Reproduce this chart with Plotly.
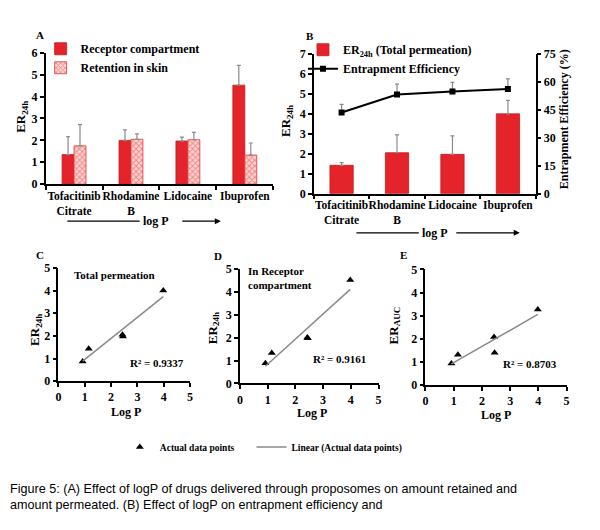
import numpy as np
import plotly.graph_objects as go

# ---------------- data ----------------
drugs = ["Tofacitinib<br>Citrate", "Rhodamine<br>B", "Lidocaine", "Ibuprofen"]
drug_labels = ["<b>Tofacitinib</b><br><b>Citrate</b>", "<b>Rhodamine</b><br><b>B</b>",
               "<b>Lidocaine</b>", "<b>Ibuprofen</b>"]

receptor = [1.35, 2.00, 1.97, 4.52]
receptor_err = [0.82, 0.48, 0.18, 0.90]
retention = [1.75, 2.05, 2.03, 1.33]
retention_err = [0.97, 0.25, 0.34, 0.55]

er_total = [1.42, 2.05, 1.97, 4.00]
er_total_err = [0.13, 0.90, 0.93, 0.68]
entrapment = [43.6, 53.2, 54.9, 56.2]
entrapment_err = [4.4, 5.6, 4.9, 5.4]

logp = [0.92, 1.15, 2.43, 2.45, 3.98]
er_c = [0.87, 1.43, 2.05, 1.97, 4.00]
er_d = [0.88, 1.33, 2.00, 1.97, 4.50]
er_e = [0.93, 1.31, 2.08, 1.40, 3.27]
r2_labels = ["R² = 0.9337", "R² = 0.9161", "R² = 0.8703"]

W, H = 600, 530
SERIF = "Liberation Serif"
RED = "#e5232a"
GREY = "#8a8a8a"


def px(x):
    return x / W


def py(y):
    return 1 - y / H


def numticks(n, step=1):
    vals = list(range(0, n + 1, step))
    return dict(tickmode="array", tickvals=vals, ticktext=[f"<b>{v}</b>" for v in vals])


def axstyle(**kw):
    d = dict(showline=True, linecolor="black", linewidth=1.5, ticks="outside",
             ticklen=4, tickwidth=1.5, tickcolor="black", showgrid=False,
             zeroline=False, fixedrange=True,
             tickfont=dict(family=SERIF, size=12, color="black"))
    d.update(kw)
    return d


fig = go.Figure()

err_style = dict(type="data", symmetric=False, color=GREY, thickness=1.2, width=2)

# Panel A
fig.add_trace(go.Bar(x=drugs, y=receptor, name="Receptor compartment",
                     marker=dict(color=RED, line=dict(color="#c41a1f", width=0.8)),
                     error_y=dict(array=receptor_err, arrayminus=[0] * 4, **err_style),
                     xaxis="x", yaxis="y", legend="legend"))
fig.add_trace(go.Bar(x=drugs, y=retention, name="Retention in skin",
                     marker=dict(color="#f6b3ad", line=dict(color="#e03a3a", width=0.8),
                                 pattern=dict(shape="x", fgcolor="#e8383c", bgcolor="#fbd6d2",
                                              size=4, solidity=0.45)),
                     error_y=dict(array=retention_err, arrayminus=[0] * 4, **err_style),
                     xaxis="x", yaxis="y", legend="legend"))

# Panel B
fig.add_trace(go.Bar(x=drugs, y=er_total, name="ER<sub>24h</sub> (Total permeation)",
                     marker=dict(color=RED, line=dict(color="#c41a1f", width=0.8)),
                     error_y=dict(array=er_total_err, arrayminus=[0] * 4, **err_style),
                     xaxis="x2", yaxis="y2", legend="legend2"))
fig.add_trace(go.Scatter(x=drugs, y=entrapment, name="Entrapment Efficiency",
                         mode="lines+markers",
                         line=dict(color="black", width=2),
                         marker=dict(symbol="square", size=6, color="black"),
                         error_y=dict(array=entrapment_err, arrayminus=[0] * 4, **err_style),
                         xaxis="x2", yaxis="y3", legend="legend2"))

# Panels C, D, E
for i, (vals, xa, ya) in enumerate([(er_c, "x3", "y4"), (er_d, "x4", "y5"), (er_e, "x5", "y6")]):
    fig.add_trace(go.Scatter(x=logp, y=vals, mode="markers", name="Actual data points",
                             marker=dict(symbol="triangle-up", size=7, color="black"),
                             xaxis=xa, yaxis=ya, legend="legend3", showlegend=(i == 0)))
    slope, icpt = np.polyfit(logp, vals, 1)
    xf = np.array([min(logp), max(logp)])
    fig.add_trace(go.Scatter(x=xf, y=slope * xf + icpt, mode="lines",
                             name="Linear (Actual data points)",
                             line=dict(color=GREY, width=1.5),
                             xaxis=xa, yaxis=ya, legend="legend4", showlegend=(i == 0)))

cat_ax = dict(type="category", tickson="boundaries", tickangle=0,
              tickmode="array", tickvals=drugs, ticktext=drug_labels,
              tickfont=dict(family=SERIF, size=11.5, color="black"))

leg_font = dict(family=SERIF, size=12, color="black", weight="bold")
leg_common = dict(xanchor="left", bgcolor="rgba(0,0,0,0)", itemclick=False, itemdoubleclick=False)

fig.update_layout(
    width=W, height=H, margin=dict(l=0, r=0, t=0, b=0),
    paper_bgcolor="white", plot_bgcolor="white",
    barmode="group", bargap=0.58, bargroupgap=0,
    xaxis=axstyle(domain=[px(43), px(273)], anchor="y", **cat_ax),
    yaxis=axstyle(domain=[py(182), py(47)], anchor="x", range=[0, 6], **numticks(6)),
    xaxis2=axstyle(domain=[px(314), px(538)], anchor="y2", **cat_ax),
    yaxis2=axstyle(domain=[py(191.7), py(48.3)], anchor="x2", range=[0, 7], **numticks(7)),
    yaxis3=axstyle(overlaying="y2", side="right", anchor="x2", range=[0, 75], **numticks(75, 15)),
    xaxis3=axstyle(domain=[px(56), px(189)], anchor="y4", range=[0, 5], **numticks(5)),
    yaxis4=axstyle(domain=[py(384.3), py(268)], anchor="x3", range=[0, 5], **numticks(5)),
    xaxis4=axstyle(domain=[px(239.3), px(379.3)], anchor="y5", range=[0, 5], **numticks(5)),
    yaxis5=axstyle(domain=[py(386.7), py(268.7)], anchor="x4", range=[0, 5], **numticks(5)),
    xaxis5=axstyle(domain=[px(426.7), px(569.3)], anchor="y6", range=[0, 5], **numticks(5)),
    yaxis6=axstyle(domain=[py(388.3), py(269.5)], anchor="x5", range=[0, 5], **numticks(5)),
    legend=dict(x=px(38), y=py(28), yanchor="top", font=leg_font, tracegroupgap=0, **leg_common),
    legend2=dict(x=px(303), y=py(29), yanchor="top", font=leg_font, tracegroupgap=0, **leg_common),
    legend3=dict(x=px(118), y=py(452), yanchor="middle", orientation="h",
                 font=dict(family=SERIF, size=9.5, color="black", weight="bold"), **leg_common),
    legend4=dict(x=px(251), y=py(452), yanchor="middle", orientation="h",
                 font=dict(family=SERIF, size=9.5, color="black", weight="bold"), **leg_common),
    showlegend=True,
)

ann = []


def txt(x, y, t, size=12, angle=0, xanchor="center", font=SERIF, weight="bold", align="center"):
    ann.append(dict(x=px(x), y=py(y), xref="paper", yref="paper", text=t, showarrow=False,
                    textangle=angle, xanchor=xanchor, yanchor="middle", align=align,
                    font=dict(family=font, size=size, color="black", weight=weight)))


# panel letters
for lx, ly, lt in [(37, 29, "A"), (310, 30, "B"), (37, 255, "C"), (217, 256, "D"), (405, 255, "E")]:
    txt(lx, ly, lt, size=11)

# axis titles
txt(18, 113, "ER<sub>24h</sub>", size=13, angle=-90)
txt(287, 117, "ER<sub>24h</sub>", size=13, angle=-90)
txt(567, 115, "Entrapment Efficiency (%)", size=12, angle=-90)
txt(33, 332, "ER<sub>24h</sub>", size=13, angle=-90)
txt(212, 330, "ER<sub>24h</sub>", size=13, angle=-90)
txt(395, 327, "ER<sub>AUC</sub>", size=13, angle=-90)
txt(124, 416, "Log P", size=12)
txt(312, 417, "Log P", size=12)
txt(498, 419, "Log P", size=12)

# log P arrows
txt(155, 220, "log P", size=12)
txt(436, 232, "log P", size=12)
for (x0, x1, y), (a0, a1) in [((180, 220, 220), (65, 138)), ((457, 522, 232), (357, 420))]:
    ann.append(dict(x=px(x1), y=py(y), xref="paper", yref="paper", ax=-(x1 - x0), ay=0,
                    axref="pixel", ayref="pixel", text="", showarrow=True, arrowhead=2,
                    arrowsize=1, arrowwidth=1.2, arrowcolor="black"))
    fig.add_shape(type="line", xref="paper", yref="paper", x0=px(a0), x1=px(a1),
                  y0=py(y), y1=py(y), line=dict(color="black", width=1.2))

# in-panel labels
txt(70, 275, "Total permeation", size=11, xanchor="left")
txt(245, 278, "In Receptor<br>compartment", size=11, xanchor="left", align="left")
txt(156, 366, r2_labels[0], size=11)
txt(340, 362, r2_labels[1], size=11)
txt(532, 367, r2_labels[2], size=11)

# caption
ann.append(dict(x=px(5), y=py(486), xref="paper", yref="paper",
                text="Figure 5: (A) Effect of logP of drugs delivered through proposomes on amount retained and<br>"
                     "amount permeated. (B) Effect of logP on entrapment efficiency and",
                showarrow=False, xanchor="left", yanchor="top", align="left",
                font=dict(family="Liberation Sans, Arial, sans-serif", size=12.6, color="black")))

fig.update_layout(annotations=ann)
fig.write_html("out.html")
